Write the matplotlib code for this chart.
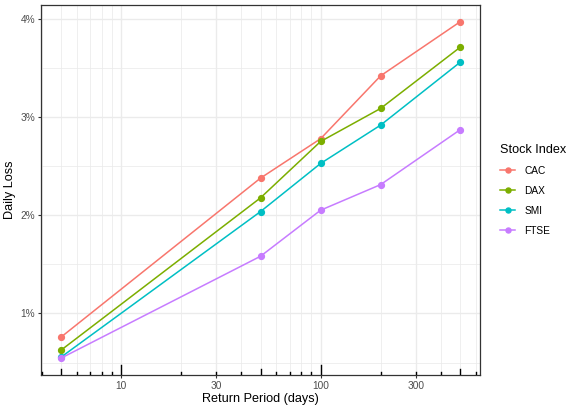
import numpy as np
import matplotlib
matplotlib.use("Agg")
import matplotlib.pyplot as plt
from matplotlib.lines import Line2D
from matplotlib.ticker import FixedLocator, FuncFormatter, NullFormatter
from matplotlib import transforms

plt.rcParams["font.family"] = ["Liberation Sans", "DejaVu Sans"]

# data (daily loss in %)
return_period = [5, 50, 100, 200, 500]
cac = [0.758, 2.378, 2.779, 3.42, 3.97]
dax = [0.625, 2.177, 2.751, 3.088, 3.71]
smi = [0.554, 2.037, 2.527, 2.918, 3.557]
ftse = [0.544, 1.582, 2.051, 2.312, 2.87]

index_names = ["CAC", "DAX", "SMI", "FTSE"]
index_colors = ["#F8766D", "#7CAE00", "#00BFC4", "#C77CFF"]

x_breaks = [10, 30, 100, 300]
y_breaks = [1, 2, 3, 4]

GRID = "#EBEBEB"
DARK = "#333333"
TXT = "#4D4D4D"

fig = plt.figure(figsize=(5.78, 4.12), dpi=100, facecolor="white")
ax = fig.add_axes([41 / 578, 1 - 375 / 412, (480 - 41) / 578, (375 - 5) / 412])
ax.set_facecolor("white")

# limits with ggplot's 5% expansion (log space for x)
lx = np.log10([min(return_period), max(return_period)])
pad = 0.05 * (lx[1] - lx[0])
ax.set_xscale("log")
ax.set_xlim(10 ** (lx[0] - pad), 10 ** (lx[1] + pad))
all_y = cac + dax + smi + ftse
ypad = 0.05 * (max(all_y) - min(all_y))
ax.set_ylim(min(all_y) - ypad, max(all_y) + ypad)

# grid: every 1..9 x 10^k vertically, half steps horizontally
minor_x = [m * 10 ** k for k in range(0, 3) for m in range(1, 10)]
for v in minor_x:
    if v in x_breaks:
        continue
    ax.axvline(v, color=GRID, lw=0.55, zorder=0)
for v in x_breaks:
    ax.axvline(v, color=GRID, lw=1.0, zorder=0)
for v in np.arange(0.5, 4.5, 1.0):
    ax.axhline(v, color=GRID, lw=0.55, zorder=0)
for v in y_breaks:
    ax.axhline(v, color=GRID, lw=1.0, zorder=0)

# series
for name, vals, col in zip(index_names, [cac, dax, smi, ftse], index_colors):
    ax.plot(return_period, vals, color=col, lw=1.1, marker="o", ms=4.2,
            mec=col, mfc=col, label=name, zorder=3)

# log ticks along the bottom, inside the panel
h_px = (375 - 5)
trans = transforms.blended_transform_factory(ax.transData, ax.transAxes)
for k in range(0, 3):
    for m in range(1, 10):
        v = m * 10 ** k
        if m == 1:
            ln = 9.75
        elif m == 5:
            ln = 6.5
        else:
            ln = 3.25
        ax.plot([v, v], [0, ln / h_px], color="black", lw=1.0,
                transform=trans, clip_on=True, zorder=4)

# axes ticks and labels
ax.xaxis.set_major_locator(FixedLocator(x_breaks))
ax.xaxis.set_minor_locator(FixedLocator([]))
ax.xaxis.set_minor_formatter(NullFormatter())
ax.xaxis.set_major_formatter(FuncFormatter(lambda v, p: f"{v:g}"))
ax.yaxis.set_major_locator(FixedLocator(y_breaks))
ax.yaxis.set_major_formatter(FuncFormatter(lambda v, p: f"{v:.0f}%"))
ax.tick_params(axis="both", which="major", length=2.3, width=0.8,
               color=DARK, labelcolor=TXT, labelsize=7.3, pad=1.8)

for sp in ax.spines.values():
    sp.set_color(DARK)
    sp.set_linewidth(0.9)

ax.set_xlabel("Return Period (days)", fontsize=9.1, color="black", labelpad=2)
ax.set_ylabel("Daily Loss", fontsize=9.1, color="black", labelpad=3)

# legend
handles = [Line2D([0], [0], color=c, lw=1.1, marker="o", ms=3.6, mfc=c, mec=c)
           for c in index_colors]
leg = fig.legend(handles, index_names, title="Stock Index",
                 loc="upper left", bbox_to_anchor=(500 / 578, 1 - 144 / 412),
                 frameon=False, fontsize=7.3, title_fontsize=9.1,
                 handlelength=1.5, handletextpad=0.9, labelspacing=0.98,
                 alignment="left", borderaxespad=0, borderpad=0)

fig.savefig("out.png", dpi=100, facecolor="white")
